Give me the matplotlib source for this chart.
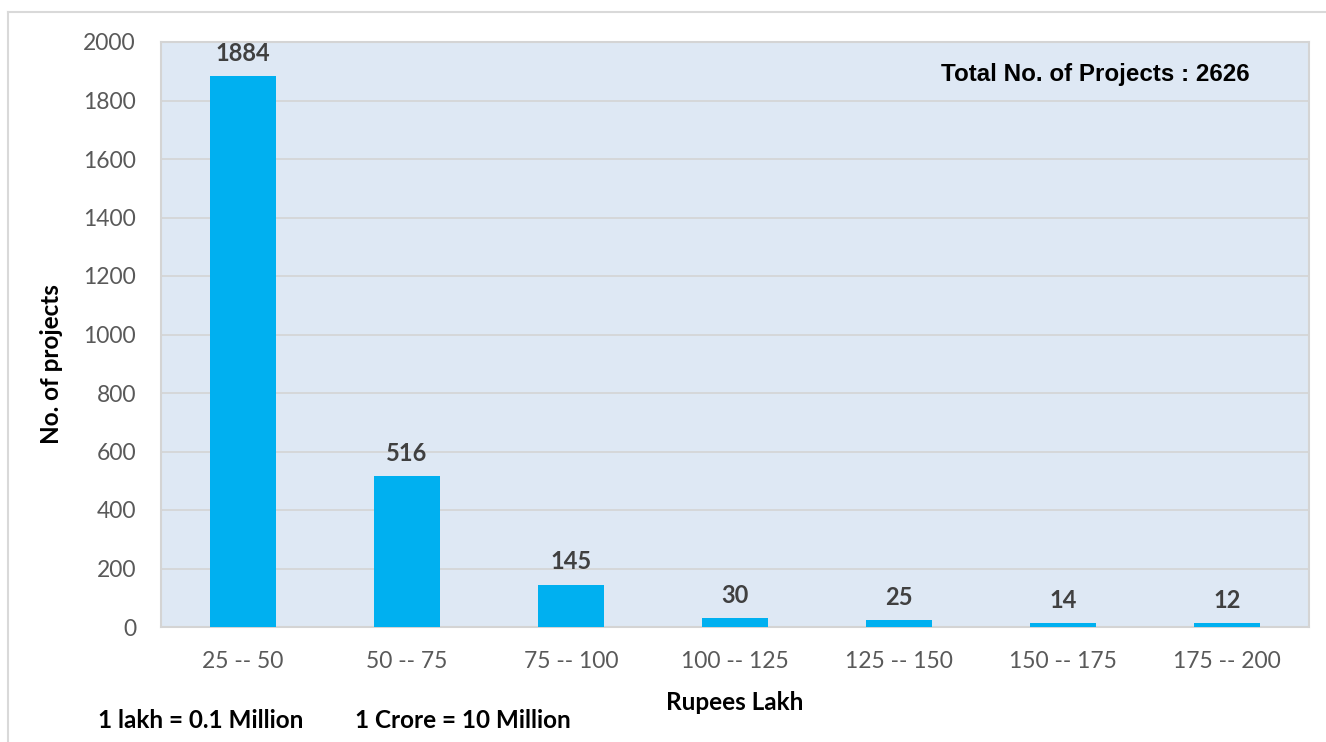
import matplotlib.pyplot as plt
from matplotlib.lines import Line2D

# data
categories = ["25 -- 50", "50 -- 75", "75 -- 100", "100 -- 125",
              "125 -- 150", "150 -- 175", "175 -- 200"]
projects = [1884, 516, 145, 30, 25, 14, 12]
total_projects = 2626
y_ticks = list(range(0, 2001, 200))

BAR_COLOR = "#00B0F0"
BG_COLOR = "#DEE8F4"
GRID_COLOR = "#D4D4D4"
TICK_COLOR = "#595959"

plt.rcParams['font.family'] = ['Lato', 'DejaVu Sans']

W, H = 1326, 742
fig = plt.figure(figsize=(W / 100, H / 100), dpi=100)
ax = fig.add_axes([161 / W, 1 - 627 / H, 1148 / W, 585 / H])
ax.set_facecolor(BG_COLOR)

x = range(len(categories))
ax.bar(x, projects, width=0.4, color=BAR_COLOR, zorder=3)

for xi, v in zip(x, projects):
    ax.annotate(str(v), (xi, v), xytext=(0, 8), textcoords="offset points",
                ha="center", va="bottom", fontsize=17, fontweight="bold",
                color="#404040")

ax.set_xlim(-0.5, len(categories) - 0.5)
ax.set_ylim(0, 2000)
ax.set_yticks(y_ticks)
ax.set_xticks(list(x))
ax.set_xticklabels(categories)
ax.tick_params(axis="both", length=0, labelsize=16.5, labelcolor=TICK_COLOR)
ax.tick_params(axis="x", pad=17)
ax.tick_params(axis="y", pad=18)
ax.grid(axis="y", color=GRID_COLOR, linewidth=1.2, zorder=0)
for s in ax.spines.values():
    s.set_color(GRID_COLOR)
    s.set_linewidth(1.5)

ax.set_ylabel("No. of projects", fontsize=17.5, fontweight="bold")
ax.yaxis.set_label_coords(-0.095, 0.45)
ax.set_xlabel("Rupees Lakh", fontsize=17.5, fontweight="bold")
ax.xaxis.set_label_coords(0.5, -(702 - 627) / 585)
ax.xaxis.label.set_va("center")
ax.yaxis.label.set_va("center")

ax.text(0.9486, 0.9436, f"Total No. of Projects : {total_projects}",
        transform=ax.transAxes, ha="right", va="center", fontsize=17.4,
        fontweight="bold", family=["Liberation Sans", "DejaVu Sans"])

fig.text(98 / W, 1 - 720 / H, "1 lakh = 0.1 Million", fontsize=17.5,
         fontweight="bold", va="center", ha="left")
fig.text(355 / W, 1 - 720 / H, "1 Crore = 10 Million", fontsize=17.5,
         fontweight="bold", va="center", ha="left")

# outer chart border (left and top edges visible)
bx, by = 8 / W, 1 - 12 / H
fig.add_artist(Line2D([bx, bx], [0, by], transform=fig.transFigure,
                      color="#D9D9D9", linewidth=1.5))
fig.add_artist(Line2D([bx, 1], [by, by], transform=fig.transFigure,
                      color="#D9D9D9", linewidth=1.5))

fig.savefig("out.png", dpi=100, facecolor="white")
